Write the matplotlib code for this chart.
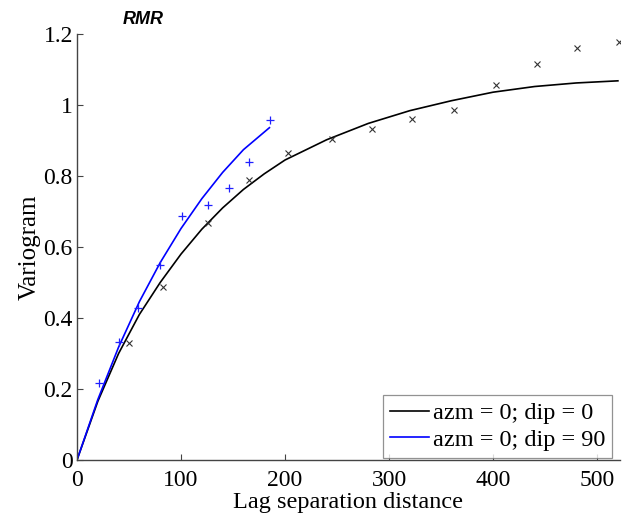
import numpy as np
import matplotlib
matplotlib.use("Agg")
import matplotlib.pyplot as plt
from matplotlib.ticker import FuncFormatter

# experimental variogram, azm = 0; dip = 0
lag_h = [50, 83, 126, 165, 203, 245, 284, 322, 362, 403, 442, 481, 521]
gam_h = [0.330, 0.487, 0.667, 0.790, 0.864, 0.904, 0.932, 0.960, 0.987, 1.057, 1.115, 1.161, 1.177]

# experimental variogram, azm = 0; dip = 90
lag_v = [21, 40, 59, 80, 101, 126, 146, 165, 186]
gam_v = [0.216, 0.333, 0.427, 0.549, 0.688, 0.718, 0.767, 0.840, 0.957]

# fitted models
fit_h_x = [0, 20, 40, 60, 80, 100, 120, 140, 160, 180, 200, 240, 280, 320, 360, 400, 440, 480, 520]
fit_h_y = [0, 0.165, 0.300, 0.410, 0.500, 0.580, 0.650, 0.710, 0.762, 0.806, 0.845,
           0.902, 0.948, 0.984, 1.012, 1.036, 1.052, 1.062, 1.068]
fit_v_x = [0, 20, 40, 60, 80, 100, 120, 140, 160, 185]
fit_v_y = [0, 0.170, 0.318, 0.446, 0.556, 0.652, 0.736, 0.810, 0.874, 0.936]

xticks = [0, 100, 200, 300, 400, 500]
yticks = [0, 0.2, 0.4, 0.6, 0.8, 1.0, 1.2]

plt.rcParams['font.family'] = ['Liberation Serif', 'DejaVu Serif']

fig = plt.figure(figsize=(6.27, 5.17), dpi=100)
ax = fig.add_axes([0.1228, 0.1103, 0.866, 0.824])

ax.plot(fit_h_x, fit_h_y, color='black', lw=1.2, label='azm = 0; dip = 0')
ax.plot(fit_v_x, fit_v_y, color='#0000ff', lw=1.2, label='azm = 0; dip = 90')
ax.plot(lag_h, gam_h, 'x', color='#333333', ms=4, mew=0.8)
ax.plot(lag_v, gam_v, '+', color='#2020ff', ms=6, mew=0.9)

ax.set_xlim(0, 522)
ax.set_ylim(0, 1.2)
ax.set_xticks(xticks)
ax.set_yticks(yticks)
ax.yaxis.set_major_formatter(FuncFormatter(lambda v, p: ('%g' % round(v, 2))))

for s in ['top', 'right']:
    ax.spines[s].set_visible(False)
for s in ['left', 'bottom']:
    ax.spines[s].set_color('#444444')
    ax.spines[s].set_linewidth(1.0)
ax.tick_params(direction='in', length=4, width=0.8, color='#444444', labelsize=17)
ax.tick_params(axis='x', pad=7)
ax.tick_params(axis='y', pad=3)

ax.set_xlabel('Lag separation distance', fontsize=17.5, labelpad=1)
ax.set_ylabel('Variogram', fontsize=18, labelpad=2)

fig.text(0.196, 0.962, 'RMR', fontsize=13, fontweight='bold', fontstyle='italic',
         family='Liberation Sans', va='center')

leg = ax.legend(loc='lower right', fontsize=17.5, frameon=True, fancybox=False,
                borderaxespad=0.0, handlelength=1.6, handletextpad=0.15,
                borderpad=0.3, labelspacing=0.2, bbox_to_anchor=(0.986, 0.004))
leg.get_frame().set_edgecolor('#777777')
leg.get_frame().set_linewidth(0.9)

fig.savefig('out.png', dpi=100)
